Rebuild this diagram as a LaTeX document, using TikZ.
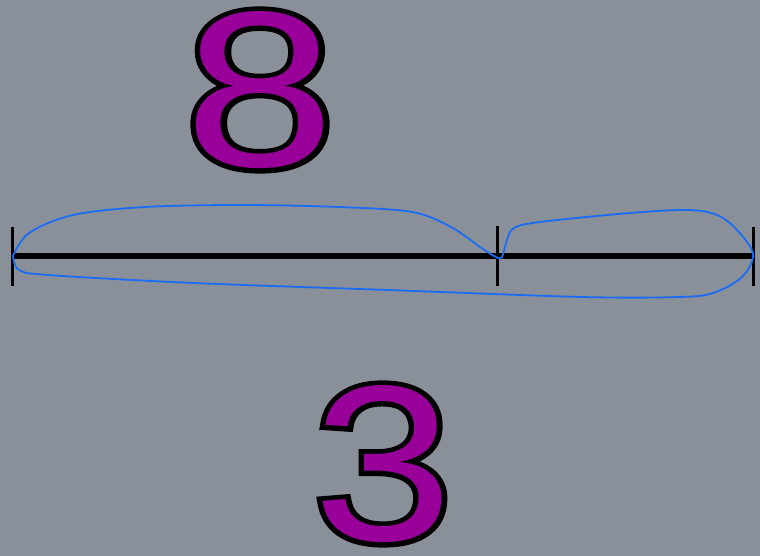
\documentclass[tikz,border=0pt]{standalone}
\usepackage{fontspec}
\newfontfamily\digitfont{Liberation Sans}
\newfontfamily\digitoutfont[FakeBold=4.5]{Liberation Sans}
\definecolor{bggray}{HTML}{8A909A}
\definecolor{digitpurple}{HTML}{990099}
\definecolor{loopblue}{HTML}{1A6CF5}
\tikzset{
  digit/.style={inner sep=0pt, text=digitpurple, font=\digitfont\fontsize{222}{222}\selectfont},
  digitout/.style={inner sep=0pt, text=black, font=\digitoutfont\fontsize{222}{222}\selectfont},
  mainline/.style={line width=5.5pt, black},
  tickline/.style={line width=3pt, black},
  loopline/.style={line width=1.8pt, loopblue, line join=round}
}
\begin{document}
\begin{tikzpicture}[x=1pt,y=-1pt]
\fill[bggray] (0,0) rectangle (760,556);
\useasboundingbox (0,0) rectangle (760,556);
\node[digitout] (eightout) at (260,90) {\scalebox{1.22}[1]{8}};
\node[digit] (eight) at (eightout.center) {\scalebox{1.22}[1]{8}};
\node[digitout] (threeout) at (383,464) {\scalebox{1.13}[1]{3}};
\node[digit] (three) at (threeout.center) {\scalebox{1.13}[1]{3}};
\coordinate (L) at (12,256);
\coordinate (M) at (497,256);
\coordinate (R) at (753,256);
\draw[mainline] (L) -- (R);
\draw[tickline] ([yshift=-30pt]L) -- ([yshift=29pt]L);
\draw[tickline] ([yshift=-30pt]M) -- ([yshift=30pt]M);
\draw[tickline] ([yshift=-30pt]R) -- ([yshift=29pt]R);
\draw[loopline] plot[smooth, tension=0.55] coordinates {
  (13,256) (29,233) (73,215) (145,207) (242,205) (339,207) (412,212)
  (451,227) (480,247) (496,257) (502,257) (507,240) (514,228) (540,222)
  (630,213) (688,210) (717,215) (737,230) (753,254)
  (742,277) (713,293) (679,297) (582,297) (388,290) (194,283)
  (48,275) (19,270) (13,256)};
\end{tikzpicture}
\end{document}
